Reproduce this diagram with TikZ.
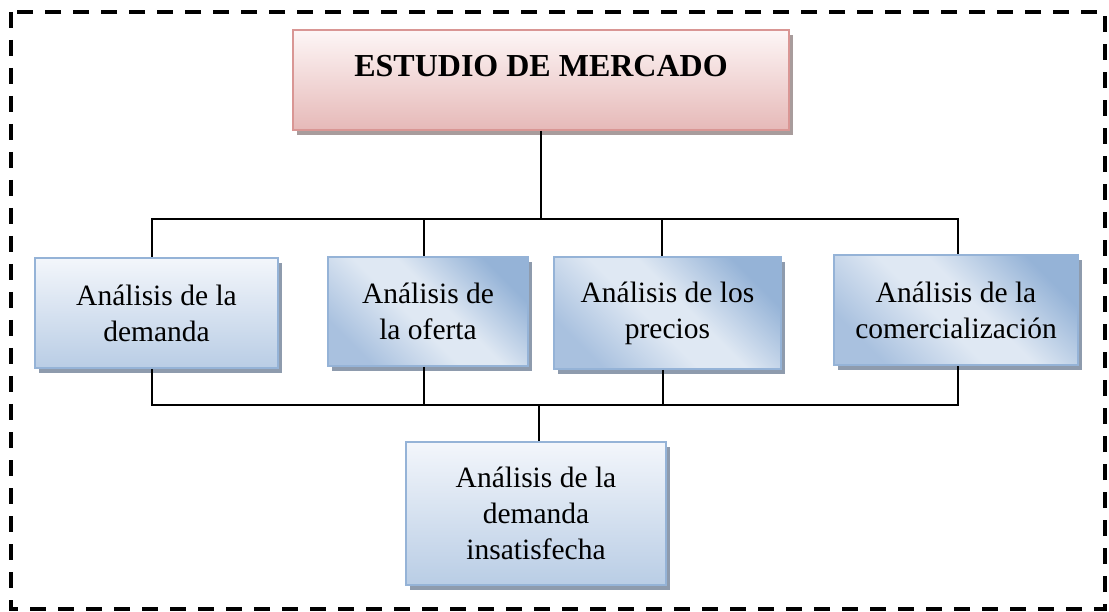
\documentclass[tikz,border=0pt]{standalone}
\usepackage{fontspec}
\setmainfont{Liberation Serif}
\usetikzlibrary{shadows}
\definecolor{bluebd}{HTML}{95B3D7}
\definecolor{bluemd}{HTML}{A9C1DF}
\definecolor{bluelt}{HTML}{DFE8F3}
\definecolor{bluetop}{HTML}{F3F6FB}
\definecolor{bluebot}{HTML}{B9CDE5}
\definecolor{pinkbd}{HTML}{D99694}
\definecolor{pinktop}{HTML}{FDF6F6}
\definecolor{pinkbot}{HTML}{E6B9B8}
\definecolor{shblue}{HTML}{8E9BAD}
\definecolor{shpink}{HTML}{A89C9C}
\pgfdeclareverticalshading{diagblue}{100bp}{color(0bp)=(bluemd); color(25bp)=(bluemd); color(45bp)=(bluelt); color(55bp)=(bluelt); color(75bp)=(bluebd); color(100bp)=(bluebd)}
\begin{document}
\begin{tikzpicture}[x=1pt,y=-1pt,
  boxbase/.style={rectangle, draw=bluebd, line width=2pt, inner sep=0pt, align=center,
    font=\fontsize{29.5}{36}\selectfont,
    drop shadow={shadow xshift=4pt, shadow yshift=-5pt, fill=shblue, opacity=1}},
  vbox/.style={boxbase, top color=bluetop, bottom color=bluebot},
  dbox/.style={boxbase, shading=diagblue, shading angle=-45},
  titlebox/.style={rectangle, draw=pinkbd, line width=2pt, inner sep=0pt,
    top color=pinktop, bottom color=pinkbot,
    font=\fontsize{32}{38}\selectfont\bfseries,
    drop shadow={shadow xshift=4pt, shadow yshift=-5pt, fill=shpink, opacity=1}},
  conn/.style={line width=2pt, black}]
\useasboundingbox (0,0) rectangle (1109,612);
\draw[line width=3.5pt, dash pattern=on 16pt off 12pt] (11,12) rectangle (1105,609);

\node[titlebox, minimum width=496pt, minimum height=100pt, text height=22pt, text depth=28pt] (title) at (541,80) {ESTUDIO DE MERCADO};

\node[vbox, minimum width=243pt, minimum height=110pt] (b1) at (156.5,313) {Análisis de la\\demanda};
\node[dbox, minimum width=200pt, minimum height=109pt] (b2) at (428,311.5) {Análisis de\\la oferta};
\node[dbox, minimum width=227pt, minimum height=112pt] (b3) at (667.5,313) {Análisis de los\\precios};
\node[dbox, minimum width=244pt, minimum height=110pt] (b4) at (956,310) {Análisis de la\\comercialización};
\node[vbox, minimum width=260pt, minimum height=143pt] (b5) at (536,513.5) {Análisis de la\\demanda\\insatisfecha};

\coordinate (tb) at (541,219);
\coordinate (bb) at (539,405);

\draw[conn] (title.south) -- (tb);
\draw[conn] ([xshift=-5pt]b1.north) -- ([xshift=-5pt]b1.north |- tb) -- ([xshift=2pt]b4.north |- tb) -- ([xshift=2pt]b4.north);
\draw[conn] ([xshift=-4pt]b2.north) -- ([xshift=-4pt]b2.north |- tb);
\draw[conn] ([xshift=-5.5pt]b3.north) -- ([xshift=-5.5pt]b3.north |- tb);

\draw[conn] ([xshift=-4.5pt]b1.south) -- ([xshift=-4.5pt]b1.south |- bb) -- ([xshift=2pt]b4.south |- bb) -- ([xshift=2pt]b4.south);
\draw[conn] ([xshift=-4pt]b2.south) -- ([xshift=-4pt]b2.south |- bb);
\draw[conn] ([xshift=-4.5pt]b3.south) -- ([xshift=-4.5pt]b3.south |- bb);
\draw[conn] (bb) -- (b5.north -| bb);
\end{tikzpicture}
\end{document}
